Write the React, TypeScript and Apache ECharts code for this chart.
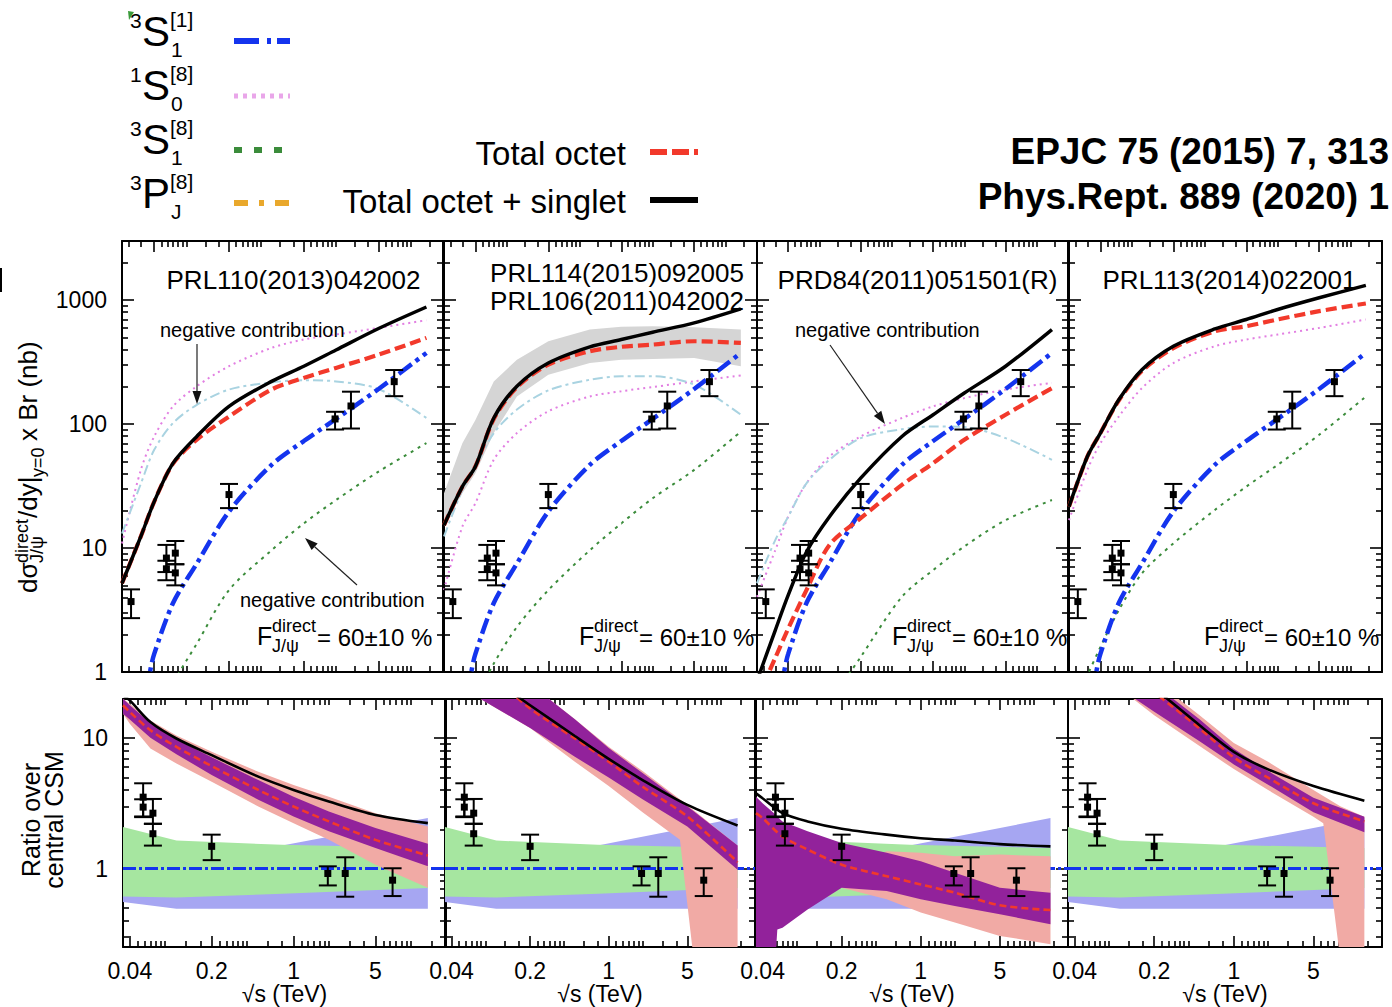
import React, { useEffect, useRef } from "react";
import * as echarts from "echarts";

const FONT = '"Liberation Sans", Arial, Helvetica, sans-serif';

// ---------------- axis ticks ----------------
const X_MAJOR_TICKS = [0.04, 0.2, 1, 5];
const X_TICK_LABELS = ["0.04", "0.2", "1", "5"];
const X_MINOR_TICKS = [
  0.0233, 0.03, 0.0467, 0.0533, 0.06, 0.0667, 0.0733, 0.08, 0.12, 0.16,
  0.2333, 0.2667, 0.3, 0.3333, 0.3667, 0.4, 0.6, 0.8,
  1.1667, 1.3333, 1.5, 1.6667, 1.8333, 2, 3, 4,
  5.8333, 6.6667, 7.5, 8.3333, 9.1667, 10, 15,
];
const Y_TOP_MAJOR_TICKS = [1, 10, 100, 1000];
const Y_TOP_MINOR_TICKS = [
  2, 3, 4, 5, 6, 7, 8, 9, 20, 30, 40, 50, 60, 70, 80, 90,
  200, 300, 400, 500, 600, 700, 800, 900, 2000, 3000,
];
const Y_BOTTOM_MAJOR_TICKS = [1, 10];
const Y_BOTTOM_MINOR_TICKS = [0.3, 0.4, 0.5, 0.6, 0.7, 0.8, 0.9, 2, 3, 4, 5, 6, 7, 8, 9, 20];

// ---------------- cross sections (nb) ----------------
// √s (TeV) at which the NRQCD curves are sampled
const SQRTS_XSEC = [0.02, 0.03, 0.04, 0.06, 0.1, 0.2, 0.5, 1, 2, 5, 14];
// colour-singlet 3S1[1] yield, identical in every panel
const CS_SQRTS = [0.03, 0.0365, 0.04, 0.06, 0.1, 0.2, 0.5, 1, 2, 5, 14];
const CS_XSEC = [0.4, 1.0, 1.4, 3.6, 7.5, 19.7, 46.9, 73, 110, 192, 375];

// PRL110(2013)042002
const A_TOTAL = [5.2, 12.4, 23.7, 48.4, 79.5, 139, 221, 293, 396, 590, 880];
const A_OCTET = [5.2, 12.4, 23.7, 48.0, 75.0, 115, 190, 236, 284, 363, 496];
const A_1S0 = [10.9, 42.7, 79.5, 139, 202, 293, 412, 481, 528, 597, 689];
const A_3PJ = [13.1, 33, 62, 102, 143, 190, 217, 226, 221, 192, 112];
const A_3S1 = [0.05, 0.16, 0.33, 0.8, 1.69, 4.58, 9.6, 15.8, 24.4, 41.4, 70.2];

// PRL114(2015)092005 / PRL106(2011)042002
const B_TOTAL = [15.3, 31.3, 45.5, 112, 202, 311, 420, 481, 551, 656, 851];
const B_OCTET = [15.3, 31.3, 45.5, 110, 198, 302, 387, 420, 438, 466, 452];
const B_OCTET_HI = [27.7, 70, 108, 221, 331, 466, 579, 609, 616, 605, 579];
const B_OCTET_LO = [14.9, 27.7, 40.2, 84.6, 167, 250, 311, 331, 335, 342, 293];
const B_1S0 = [4.58, 14.9, 23, 51.5, 84.6, 127, 167, 184, 199, 221, 247];
const B_3PJ = [12.4, 29.4, 45.5, 84.6, 131, 187, 228, 243, 243, 208, 119];
const B_3S1 = [0.15, 0.35, 0.6, 1.17, 2.31, 4.58, 9.6, 15.8, 25.2, 42.7, 87];

// PRD84(2011)051501(R)
const C_TOTAL = [0.85, 2.17, 4.17, 9.3, 17.9, 36.6, 79.5, 119, 178, 293, 579];
const C_OCTET = [0.6, 1.3, 2.24, 4.58, 10.6, 17.4, 32.3, 48.4, 74.7, 119, 195];
const C_1S0 = [4.04, 9.6, 17.9, 33.3, 54.8, 79.5, 112, 139, 162, 190, 215];
const C_3PJ = [5.2, 11.6, 17.9, 33.3, 51.5, 77, 91, 95.7, 94.6, 77, 51.5];
const C_3S1 = [0.03, 0.06, 0.1, 0.22, 0.55, 1.32, 4.04, 6.64, 10.3, 16.8, 24.4];

// PRL113(2014)022001
const D_TOTAL = [21.6, 54.8, 84.6, 157, 275, 425, 586, 698, 841, 1045, 1315];
const D_OCTET = [21.6, 54.8, 84.6, 155, 268, 410, 561, 616, 698, 815, 940];
const D_1S0 = [16.8, 42.7, 70, 115, 195, 311, 425, 481, 528, 597, 698];
const D_3S1 = [0.45, 0.94, 1.59, 3.15, 6.24, 10.9, 20.3, 31.3, 46.9, 82, 167];

// measured direct J/psi yields
const DATA_SQRTS = [0.0243, 0.052, 0.052, 0.063, 0.063, 0.2, 1.96, 2.76, 7];
const DATA_XSEC = [3.7, 8.3, 6.8, 9.1, 6.3, 27.0, 110, 140, 220];
const DATA_XSEC_LO = [2.72, 6.4, 5.5, 7.4, 5.0, 21.0, 90.4, 92.1, 168];
const DATA_XSEC_HI = [4.64, 10.6, 7.9, 11.4, 7.4, 32.9, 125.7, 182.6, 273];

// ---------------- ratios over central CSM ----------------
const SQRTS_RATIO = [0.035, 0.04, 0.06, 0.1, 0.2, 0.5, 1, 2, 5, 14];
const UNITY_SQRTS = [0.035, 20];
const UNITY = [1, 1];
const CS_BAND_SQRTS = [0.035, 0.1, 0.8, 14];
const CS_BAND_A_HI = [1.57, 1.46, 1.5, 2.44];
const CS_BAND_A_LO = [0.553, 0.492, 0.492, 0.492];
const CS_BAND_B_HI = [2.08, 1.64, 1.52, 1.44];
const CS_BAND_B_LO = [0.61, 0.6, 0.64, 0.71];

const A_R_TOTAL = [21.3, 19.5, 13.3, 9.95, 7.41, 5.07, 4.01, 3.27, 2.58, 2.23];
const A_R_OCTET = [17.9, 15.9, 11.5, 8.58, 6.11, 4.01, 2.99, 2.3, 1.66, 1.26];
const A_R_IN_HI = [20.1, 17.9, 13.1, 9.77, 7.13, 4.78, 3.56, 2.74, 2.05, 1.55];
const A_R_IN_LO = [15.4, 13.9, 10.1, 7.55, 5.22, 3.37, 2.51, 1.93, 1.44, 1.04];
const A_R_OUT_SQRTS = [0.035, 0.04, 0.06, 0.1, 0.2, 0.5, 1, 2, 5, 14];
const A_R_OUT_HI = [20.1, 18.4, 13.7, 10.5, 7.86, 5.53, 4.38, 3.56, 2.66, 2.1];
const A_R_OUT_LO = [15.4, 12.9, 8.34, 6.41, 4.64, 2.99, 2.23, 1.66, 1.07, 0.711];

const B_R_TOTAL = [48, 45, 36, 27, 17.9, 10.4, 6.95, 4.78, 3.08, 2.14];
const B_R_OCTET = [50, 46, 37, 28, 16.9, 9.95, 6.6, 4.25, 2.51, 1.12];
const B_R_IN_HI = [60, 55, 45, 34, 26, 14, 8.4, 5.4, 3.0, 1.5];
const B_R_IN_LO = [30, 28, 22, 17, 12, 7.2, 5.0, 3.4, 2.1, 0.98];
const B_R_OUT_SQRTS = [0.035, 0.04, 0.06, 0.1, 0.2, 0.5, 1, 2, 4.3, 5.7, 14];
const B_R_OUT_HI = [60, 55, 45, 34, 26, 14, 8.6, 5.6, 3.4, 2.8, 1.5];
const B_R_OUT_LO = [30, 28, 22, 17, 12, 6.6, 4.3, 2.7, 1.66, 0.2, 0.2];

const C_R_TOTAL = [3.78, 3.46, 2.66, 2.3, 2.02, 1.82, 1.71, 1.64, 1.54, 1.48];
const C_R_OCTET = [2.66, 2.44, 1.76, 1.4, 1.07, 0.874, 0.755, 0.652, 0.522, 0.48];
const C_R_IN_SQRTS = [0.035, 0.04, 0.052, 0.054, 0.06, 0.1, 0.2, 0.5, 1, 2, 5, 14];
const C_R_IN_HI = [3.56, 3.17, 2.6, 2.5, 2.3, 1.93, 1.57, 1.32, 1.14, 0.927, 0.711, 0.652];
const C_R_IN_LO = [0.2, 0.2, 0.2, 0.34, 0.352, 0.486, 0.711, 0.671, 0.58, 0.515, 0.446, 0.374];
const C_R_OUT_SQRTS = [0.2, 0.5, 1, 2, 5, 14];
const C_R_OUT_HI = [1.0, 1.36, 1.32, 1.24, 1.28, 1.24];
const C_R_OUT_LO = [0.711, 0.58, 0.459, 0.385, 0.304, 0.263];

const D_R_TOTAL = [60, 55, 45, 35, 24, 12.6, 7.87, 5.77, 4.3, 3.32];
const D_R_OCTET = [62, 57, 47, 36, 22.5, 11.9, 7.13, 4.98, 3.17, 2.3];
const D_R_IN_HI = [70, 65, 52, 40, 26, 14, 8.3, 5.6, 3.5, 2.5];
const D_R_IN_LO = [45, 40, 31, 24, 16, 9.5, 6.3, 4.4, 2.7, 1.9];
const D_R_OUT_SQRTS = [0.035, 0.04, 0.06, 0.1, 0.2, 0.5, 1, 2, 5, 6.1, 8.6, 14];
const D_R_OUT_HI = [70, 65, 52, 40, 28, 15, 9.2, 6.6, 4.0, 3.6, 3.0, 2.5];
const D_R_OUT_LO = [45, 40, 31, 24, 15, 8.7, 5.8, 4.0, 2.5, 2.23, 0.2, 0.2];

// measured ratios over the central colour-singlet prediction
const RATIO_SQRTS = [0.052, 0.052, 0.063, 0.063, 0.2, 1.96, 2.76, 7];
const RATIO = [3.53, 2.96, 2.66, 1.85, 1.48, 0.916, 0.916, 0.814];
const RATIO_LO = [2.51, 2.48, 2.2, 1.5, 1.16, 0.742, 0.608, 0.615];
const RATIO_HI = [4.51, 3.4, 3.42, 2.21, 1.82, 1.04, 1.22, 1.005];

// ---------------- text ----------------
const PANEL_REFS = [
  ["PRL110(2013)042002"],
  ["PRL114(2015)092005", "PRL106(2011)042002"],
  ["PRD84(2011)051501(R)"],
  ["PRL113(2014)022001"],
];
const LEGEND_STATES = [
  { pre: "3", main: "S", sup: "[1]", sub: "1" },
  { pre: "1", main: "S", sup: "[8]", sub: "0" },
  { pre: "3", main: "S", sup: "[8]", sub: "1" },
  { pre: "3", main: "P", sup: "[8]", sub: "J" },
];

// ---------------- styling ----------------
const COL = {
  black: "#000000",
  red: "#f2392b",
  blue: "#1434ee",
  violet: "#e27fe2",
  violetLegend: "#e9a6e9",
  lightblue: "#a9d3e1",
  green: "#3b8c3b",
  orange: "#e9a82c",
  gray: "#d5d5d5",
  bandGreen: "#a6e6a0",
  bandBlue: "#a6a6f2",
  salmon: "#f1aaa5",
  purple: "#92229b",
};

const TOP_GRIDS = [
  { left: 122, width: 321 },
  { left: 444, width: 313 },
  { left: 757, width: 311 },
  { left: 1069, width: 313 },
];
const BOTTOM_GRIDS = [
  { left: 123, width: 323 },
  { left: 445, width: 310 },
  { left: 756, width: 312 },
  { left: 1068, width: 314 },
];

function txt(x: number, y: number, s: string, size: number, extra: any = {}) {
  const align = extra.align || "left";
  const va = extra.verticalAlign || "middle";
  return {
    type: "text",
    x,
    y,
    z: 100,
    silent: true,
    style: {
      text: s,
      fontSize: size,
      fontFamily: FONT,
      fontWeight: extra.fontWeight || "normal",
      fill: extra.fill || "#000",
      align,
      textAlign: align,
      verticalAlign: va,
      textVerticalAlign: va,
      lineHeight: extra.lineHeight,
    },
  };
}

function seg(x1: number, y1: number, x2: number, y2: number, stroke: string, width: number, dash?: number[]) {
  return {
    type: "line",
    z: 100,
    silent: true,
    shape: { x1, y1, x2, y2 },
    style: { stroke, lineWidth: width, lineDash: dash || null },
  };
}

function arrow(x1: number, y1: number, x2: number, y2: number) {
  const dx = x2 - x1;
  const dy = y2 - y1;
  const len = Math.sqrt(dx * dx + dy * dy);
  const ux = dx / len;
  const uy = dy / len;
  const hl = 13;
  const hw = 4.5;
  const bx = x2 - ux * hl;
  const by = y2 - uy * hl;
  return [
    seg(x1, y1, bx, by, "#222", 1.2),
    {
      type: "polygon",
      z: 100,
      silent: true,
      shape: {
        points: [
          [x2, y2],
          [bx - uy * hw, by + ux * hw],
          [bx + uy * hw, by - ux * hw],
        ],
      },
      style: { fill: "#111" },
    },
  ];
}

function buildOption() {
  const grid: any[] = [];
  const xAxis: any[] = [];
  const yAxis: any[] = [];
  const series: any[] = [];
  const graphic: any[] = [];

  const frame = { color: "#000", width: 2 };

  const axis = (
    g: number,
    pos: string,
    min: number,
    max: number,
    ticks: number[],
    len: number,
    main: boolean,
    label: any
  ) => ({
    type: "log",
    logBase: 10,
    gridIndex: g,
    position: pos,
    min,
    max,
    silent: true,
    axisLine: { show: main, onZero: false, lineStyle: frame },
    axisTick: {
      show: true,
      inside: true,
      length: len,
      customValues: ticks,
      lineStyle: { color: "#000", width: 1.6 },
    },
    minorTick: { show: false },
    splitLine: { show: false },
    axisLabel: label
      ? {
          show: true,
          customValues: label.values,
          formatter: label.formatter,
          fontSize: 23,
          fontFamily: FONT,
          color: "#000",
          margin: label.margin,
        }
      : { show: false },
  });

  const xLabel = {
    values: X_MAJOR_TICKS,
    margin: 12,
    formatter: (v: number) => {
      const i = X_MAJOR_TICKS.findIndex((t) => Math.abs(t - v) / t < 1e-6);
      return i >= 0 ? X_TICK_LABELS[i] : "";
    },
  };
  const yLabel = (vals: number[]) => ({
    values: vals,
    margin: 15,
    formatter: (v: number) => String(Math.round(v)),
  });

  const addGrid = (
    g: number,
    left: number,
    top: number,
    width: number,
    height: number,
    xr: number[],
    yr: number[],
    yMaj: number[],
    yMin: number[],
    showX: boolean,
    showY: boolean
  ) => {
    grid.push({ left, top, width, height, containLabel: false, outerBoundsMode: "none", show: false });
    xAxis.push(axis(g, "bottom", xr[0], xr[1], X_MAJOR_TICKS, 11, true, showX ? xLabel : null));
    xAxis.push(axis(g, "bottom", xr[0], xr[1], X_MINOR_TICKS, 6, false, null));
    xAxis.push(axis(g, "top", xr[0], xr[1], X_MAJOR_TICKS, 11, true, null));
    xAxis.push(axis(g, "top", xr[0], xr[1], X_MINOR_TICKS, 6, false, null));
    yAxis.push(axis(g, "left", yr[0], yr[1], yMaj, 12, true, showY ? yLabel(yMaj) : null));
    yAxis.push(axis(g, "left", yr[0], yr[1], yMin, 6, false, null));
    yAxis.push(axis(g, "right", yr[0], yr[1], yMaj, 12, true, null));
    yAxis.push(axis(g, "right", yr[0], yr[1], yMin, 6, false, null));
  };

  const line = (g: number, xs: number[], ys: number[], color: string, width: number, dash: any, z: number, smooth = 0.3) => ({
    type: "line",
    xAxisIndex: 4 * g,
    yAxisIndex: 4 * g,
    data: xs.map((x, i) => [x, ys[i]]),
    showSymbol: false,
    symbol: "none",
    smooth,
    clip: true,
    silent: true,
    z,
    lineStyle: { color, width, type: dash || "solid", cap: "butt" },
  });

  const band = (g: number, xs: number[], hi: number[], lo: number[], color: string, z: number) => ({
    type: "custom",
    xAxisIndex: 4 * g,
    yAxisIndex: 4 * g,
    clip: true,
    silent: true,
    z,
    data: [[xs[0], hi[0]]],
    renderItem: (_p: any, api: any) => {
      const pts: number[][] = [];
      for (let i = 0; i < xs.length; i++) pts.push(api.coord([xs[i], hi[i]]));
      for (let i = xs.length - 1; i >= 0; i--) pts.push(api.coord([xs[i], lo[i]]));
      return { type: "polygon", shape: { points: pts }, style: { fill: color } };
    },
  });

  const points = (g: number, xs: number[], ys: number[], lo: number[], hi: number[]) => ({
    type: "custom",
    xAxisIndex: 4 * g,
    yAxisIndex: 4 * g,
    clip: true,
    silent: true,
    z: 20,
    dimensions: ["x", "y", "lo", "hi"],
    encode: { x: 0, y: 1 },
    data: xs.map((x, i) => [x, ys[i], lo[i], hi[i]]),
    renderItem: (_p: any, api: any) => {
      const c = api.coord([api.value(0), api.value(1)]);
      const cl = api.coord([api.value(0), api.value(2)]);
      const ch = api.coord([api.value(0), api.value(3)]);
      const st = { stroke: "#000", lineWidth: 2 };
      return {
        type: "group",
        children: [
          { type: "line", shape: { x1: c[0], y1: ch[1], x2: c[0], y2: cl[1] }, style: st },
          { type: "line", shape: { x1: c[0] - 9, y1: ch[1], x2: c[0] + 9, y2: ch[1] }, style: st },
          { type: "line", shape: { x1: c[0] - 9, y1: cl[1], x2: c[0] + 9, y2: cl[1] }, style: st },
          { type: "rect", shape: { x: c[0] - 3.5, y: c[1] - 3.5, width: 7, height: 7 }, style: { fill: "#000" } },
        ],
      };
    },
  });

  // ---- upper row: cross sections ----
  const topPanels = [
    { total: A_TOTAL, octet: A_OCTET, s0: A_1S0, pj: A_3PJ, s1: A_3S1, hi: null, lo: null },
    { total: B_TOTAL, octet: B_OCTET, s0: B_1S0, pj: B_3PJ, s1: B_3S1, hi: B_OCTET_HI, lo: B_OCTET_LO },
    { total: C_TOTAL, octet: C_OCTET, s0: C_1S0, pj: C_3PJ, s1: C_3S1, hi: null, lo: null },
    { total: D_TOTAL, octet: D_OCTET, s0: D_1S0, pj: null, s1: D_3S1, hi: null, lo: null },
  ];
  topPanels.forEach((p, g) => {
    const gl = TOP_GRIDS[g];
    addGrid(g, gl.left, 241, gl.width, 431, [0.02, 20], [1, 3000], Y_TOP_MAJOR_TICKS, Y_TOP_MINOR_TICKS, false, g === 0);
    if (p.hi && p.lo) series.push(band(g, SQRTS_XSEC, p.hi, p.lo, COL.gray, 1));
    series.push(line(g, SQRTS_XSEC, p.s1, COL.green, 2, [3, 5], 2));
    series.push(line(g, SQRTS_XSEC, p.s0, COL.violet, 2, [2, 4], 3));
    if (p.pj) series.push(line(g, SQRTS_XSEC, p.pj, COL.lightblue, 2, [10, 4, 3, 4], 4));
    series.push(line(g, CS_SQRTS, CS_XSEC, COL.blue, 4.5, [16, 5, 4, 5], 5));
    series.push(line(g, SQRTS_XSEC, p.octet, COL.red, 4.2, [11, 5], 6));
    series.push(line(g, SQRTS_XSEC, p.total, COL.black, 3.5, null, 7));
    series.push(points(g, DATA_SQRTS, DATA_XSEC, DATA_XSEC_LO, DATA_XSEC_HI));
  });

  // ---- lower row: ratios ----
  const bottomPanels = [
    { total: A_R_TOTAL, octet: A_R_OCTET, inX: SQRTS_RATIO, inHi: A_R_IN_HI, inLo: A_R_IN_LO, outX: A_R_OUT_SQRTS, outHi: A_R_OUT_HI, outLo: A_R_OUT_LO },
    { total: B_R_TOTAL, octet: B_R_OCTET, inX: SQRTS_RATIO, inHi: B_R_IN_HI, inLo: B_R_IN_LO, outX: B_R_OUT_SQRTS, outHi: B_R_OUT_HI, outLo: B_R_OUT_LO },
    { total: C_R_TOTAL, octet: C_R_OCTET, inX: C_R_IN_SQRTS, inHi: C_R_IN_HI, inLo: C_R_IN_LO, outX: C_R_OUT_SQRTS, outHi: C_R_OUT_HI, outLo: C_R_OUT_LO },
    { total: D_R_TOTAL, octet: D_R_OCTET, inX: SQRTS_RATIO, inHi: D_R_IN_HI, inLo: D_R_IN_LO, outX: D_R_OUT_SQRTS, outHi: D_R_OUT_HI, outLo: D_R_OUT_LO },
  ];
  bottomPanels.forEach((p, k) => {
    const g = 4 + k;
    const gl = BOTTOM_GRIDS[k];
    addGrid(g, gl.left, 699, gl.width, 248, [0.035, 20], [0.25, 20], Y_BOTTOM_MAJOR_TICKS, Y_BOTTOM_MINOR_TICKS, true, k === 0);
    series.push(band(g, CS_BAND_SQRTS, CS_BAND_A_HI, CS_BAND_A_LO, COL.bandBlue, 1));
    series.push(band(g, CS_BAND_SQRTS, CS_BAND_B_HI, CS_BAND_B_LO, COL.bandGreen, 2));
    series.push(line(g, UNITY_SQRTS, UNITY, COL.blue, 3, [13, 3, 3, 3], 3, 0));
    series.push(band(g, p.outX, p.outHi, p.outLo, COL.salmon, 4));
    series.push(band(g, p.inX, p.inHi, p.inLo, COL.purple, 5));
    series.push(line(g, SQRTS_RATIO, p.octet, COL.red, 2.6, [7, 4], 6));
    series.push(line(g, SQRTS_RATIO, p.total, COL.black, 2.6, null, 7));
    series.push(points(g, RATIO_SQRTS, RATIO, RATIO_LO, RATIO_HI));
  });

  // ---- legend: NRQCD states ----
  const rowY = [31, 85, 139, 193];
  const sampleY = [41, 96, 150, 203];
  LEGEND_STATES.forEach((s, i) => {
    const cy = rowY[i];
    graphic.push(txt(130, cy - 11, s.pre, 21, { lineHeight: 18 }));
    graphic.push(txt(142, cy, s.main, 42, { lineHeight: 34 }));
    graphic.push(txt(170, cy - 12, s.sup, 21, { lineHeight: 18 }));
    graphic.push(txt(171, cy + 18, s.sub, 21, { lineHeight: 18 }));
  });
  graphic.push(seg(234, sampleY[0], 290, sampleY[0], COL.blue, 6, [25, 8, 4, 6]));
  graphic.push(seg(234, sampleY[1], 290, sampleY[1], COL.violetLegend, 5, [4, 5]));
  graphic.push(seg(234, sampleY[2], 290, sampleY[2], COL.green, 6, [8, 12]));
  graphic.push(seg(234, sampleY[3], 290, sampleY[3], COL.orange, 6, [14, 11, 5, 11]));

  graphic.push(txt(626, 153, "Total octet", 33, { align: "right" }));
  graphic.push(txt(626, 201, "Total octet + singlet", 33, { align: "right" }));
  graphic.push(seg(650, 152, 698, 152, COL.red, 6, [17, 5]));
  graphic.push(seg(650, 200, 698, 200, COL.black, 6));

  graphic.push(txt(1389, 151, "EPJC 75 (2015) 7, 313", 37, { align: "right", fontWeight: "bold" }));
  graphic.push(txt(1389, 196, "Phys.Rept. 889 (2020) 1", 37, { align: "right", fontWeight: "bold" }));

  // small marks at the page edge
  graphic.push({ type: "polygon", z: 100, silent: true, shape: { points: [[128, 11], [134, 12], [129, 20]] }, style: { fill: "#3a9a3a" } });
  graphic.push(seg(1, 268, 1, 292, "#000", 2));

  // ---- axis titles ----
  graphic.push({
    type: "group",
    x: 0,
    y: 593,
    rotation: Math.PI / 2,
    children: [
      txt(0, 28, "dσ", 26),
      txt(30, 21.5, "direct", 18, { lineHeight: 14 }),
      txt(30, 37, "J/ψ", 18, { lineHeight: 14 }),
      txt(75, 28, "/dy|", 26),
      txt(116, 38, "y=0", 18),
      txt(152, 28, "x Br (nb)", 26),
    ],
  });
  graphic.push({
    type: "group",
    x: 42,
    y: 820,
    rotation: Math.PI / 2,
    children: [txt(0, 0, "Ratio over\ncentral CSM", 25, { align: "center", lineHeight: 23 })],
  });
  BOTTOM_GRIDS.forEach((gl) => {
    const cx = gl.left + gl.width / 2;
    graphic.push(txt(cx, 994, "√s (TeV)", 23, { align: "center" }));
  });

  // ---- panel annotations ----
  graphic.push(txt(293.5, 280, PANEL_REFS[0][0], 26, { align: "center" }));
  graphic.push(txt(744, 273, PANEL_REFS[1][0], 26, { align: "right" }));
  graphic.push(txt(744, 301, PANEL_REFS[1][1], 26, { align: "right" }));
  graphic.push(txt(917.5, 280, PANEL_REFS[2][0], 26, { align: "center" }));
  graphic.push(txt(1229.5, 280, PANEL_REFS[3][0], 26, { align: "center" }));

  TOP_GRIDS.forEach((gl) => {
    const L = gl.left;
    graphic.push(txt(L + 135, 636, "F", 25));
    graphic.push(txt(L + 150, 626, "direct", 18, { lineHeight: 14 }));
    graphic.push(txt(L + 150, 646, "J/ψ", 18, { lineHeight: 14 }));
    graphic.push(txt(L + 195, 637, "= 60±10 %", 24));
  });

  graphic.push(txt(160, 330, "negative contribution", 20));
  graphic.push(...arrow(197, 344, 197, 404));
  graphic.push(txt(240, 600, "negative contribution", 20));
  graphic.push(...arrow(357, 585, 305, 538));
  graphic.push(txt(795, 330, "negative contribution", 20));
  graphic.push(...arrow(830, 345, 885, 424));

  return {
    animation: false,
    backgroundColor: "#ffffff",
    textStyle: { fontFamily: FONT },
    grid,
    xAxis,
    yAxis,
    series,
    graphic: { elements: graphic },
  };
}

export default function App() {
  const ref = useRef<HTMLDivElement>(null);
  useEffect(() => {
    document.body.style.margin = "0";
    const chart = echarts.init(ref.current as HTMLDivElement, undefined, {
      renderer: "svg",
      width: 1392,
      height: 1007,
    });
    chart.setOption(buildOption() as any);
    return () => chart.dispose();
  }, []);
  return (
    <div
      ref={ref}
      style={{ position: "fixed", left: 0, top: 0, width: 1392, height: 1007, background: "#fff" }}
    />
  );
}
